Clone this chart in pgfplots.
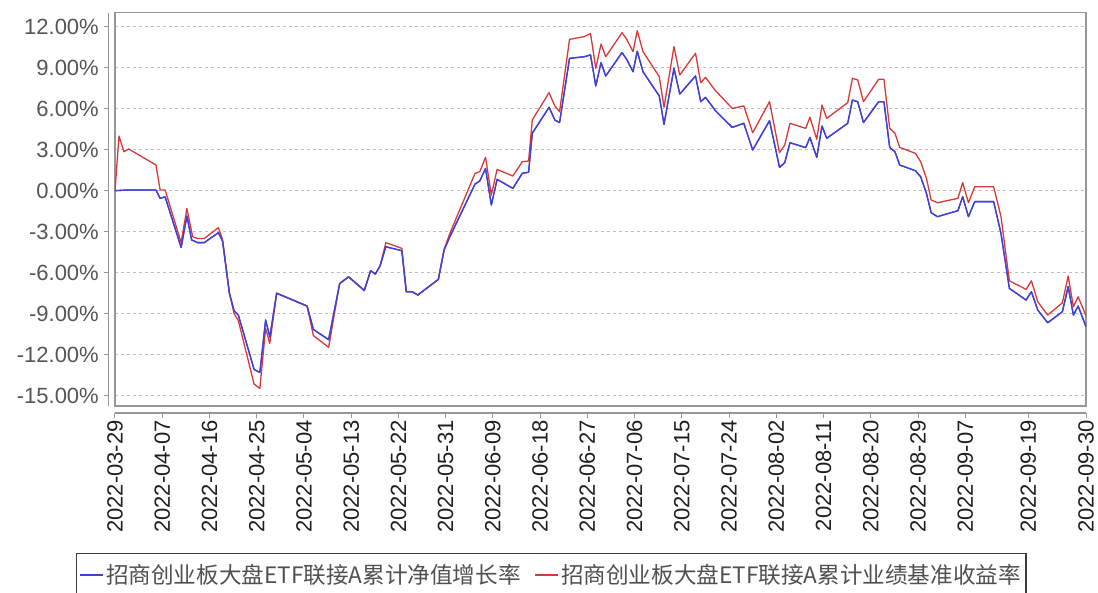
\documentclass[border=0pt]{standalone}
\usepackage{pgfplots}
\usepackage{pgfplotstable}
\pgfplotsset{compat=1.18}
\usepackage{fontspec}
\setmainfont{Liberation Sans}
\newfontfamily\cjk{Noto Sans CJK SC}
\definecolor{navblue}{RGB}{64,64,214}
\definecolor{bmred}{RGB}{218,56,56}
\definecolor{framegray}{RGB}{150,150,150}
\definecolor{gridgray}{RGB}{190,190,190}
\definecolor{ylab}{RGB}{85,85,85}
\definecolor{xlab}{RGB}{30,30,30}
\definecolor{legtext}{RGB}{80,80,80}
\definecolor{legframe}{RGB}{60,60,60}

% x = calendar days since 2022-03-29, y = cumulative return in %
\pgfplotstableread{
x y
0 0
2.2 0.05
7.8 0.05
8.6 -0.56
9.55 -0.45
12.6 -4.15
13.7 -1.85
14.6 -3.6
15.75 -3.8
17.0 -3.8
19.7 -3.07
20.5 -3.7
21.8 -7.5
22.7 -8.8
23.5 -9.1
26.5 -13.07
27.6 -13.3
28.7 -9.46
29.5 -10.7
30.8 -7.5
36.6 -8.44
37.8 -10.15
40.7 -10.9
42.8 -6.8
44.5 -6.3
47.5 -7.3
48.7 -5.85
49.6 -6.1
50.5 -5.5
51.6 -4.1
54.65 -4.39
55.5 -7.39
56.6 -7.39
57.7 -7.63
61.6 -6.49
62.7 -4.34
63.8 -3.37
68.6 0.49
69.5 0.71
70.6 1.63
71.7 -1.05
72.8 0.83
75.8 0.17
77.6 1.27
78.8 1.35
79.5 4.2
82.7 6.1
83.8 5.17
84.7 4.98
86.6 9.68
89.4 9.8
90.6 9.93
91.6 7.66
92.6 9.37
93.5 8.39
96.6 10.1
97.5 9.6
98.7 8.7
99.5 10.2
100.6 8.7
103.7 6.93
104.6 4.85
106.5 8.95
107.6 7.07
110.6 8.39
111.6 6.51
112.5 6.83
114.4 5.85
117.6 4.63
119.8 4.93
121.5 2.98
124.7 5.12
126.6 1.71
127.6 2.05
128.6 3.51
131.6 3.15
132.4 3.9
133.7 2.44
134.7 4.73
135.6 3.83
139.6 4.93
140.5 6.63
141.5 6.51
142.6 4.98
145.5 6.51
146.5 6.51
147.6 3.17
148.6 2.85
149.5 1.88
152.5 1.46
153.5 1.02
154.6 -0.2
155.5 -1.61
156.7 -1.9
160.6 -1.46
161.5 -0.44
162.6 -1.9
163.8 -0.8
167.4 -0.8
168.8 -3.12
170.4 -7.15
173.6 -8.0
174.6 -7.39
175.8 -8.73
177.7 -9.66
180.5 -8.85
181.6 -7.02
182.6 -9.1
183.5 -8.44
185 -9.95
}\navtab

\pgfplotstableread{
x y
0 0
0.76 4.0
1.7 2.85
2.6 3.05
7.8 1.88
8.6 0.05
9.55 0.05
12.6 -3.8
13.7 -1.3
14.8 -3.37
15.75 -3.5
17.0 -3.5
19.7 -2.7
20.5 -3.6
21.8 -7.5
22.7 -9.0
23.5 -9.5
26.5 -14.15
27.6 -14.46
28.7 -10.07
29.5 -11.17
30.8 -7.5
36.6 -8.44
37.8 -10.6
40.7 -11.46
42.8 -6.8
44.5 -6.3
47.5 -7.3
48.7 -5.85
49.6 -6.1
50.5 -5.5
51.6 -3.8
54.65 -4.22
55.5 -7.39
56.6 -7.39
57.7 -7.63
61.6 -6.49
62.7 -4.3
63.8 -3.12
68.6 1.27
69.5 1.39
70.6 2.44
71.7 -0.32
72.8 1.56
75.8 1.07
77.6 2.12
78.8 2.17
79.5 5.17
82.7 7.17
83.8 6.2
84.7 5.78
86.6 11.07
89.4 11.27
90.6 11.5
91.6 8.95
92.6 10.73
93.5 9.8
96.6 11.56
97.5 11.07
98.7 10.17
99.5 11.7
100.6 10.17
103.7 8.34
104.6 6.1
106.5 10.54
107.6 8.46
110.6 10.05
111.6 7.9
112.5 8.29
114.4 7.32
117.6 6.02
119.8 6.2
121.5 4.24
124.7 6.51
126.6 2.78
127.6 3.34
128.6 4.93
131.6 4.56
132.4 5.37
133.7 3.76
134.7 6.27
135.6 5.29
139.6 6.44
140.5 8.22
141.5 8.1
142.6 6.51
145.5 8.15
146.5 8.15
147.6 4.56
148.6 4.2
149.5 3.17
152.5 2.73
153.5 2.12
154.6 0.9
155.5 -0.68
156.7 -0.88
160.6 -0.56
161.5 0.59
162.6 -0.88
163.8 0.29
167.4 0.29
168.8 -1.9
170.4 -6.59
173.6 -7.22
174.6 -6.59
175.8 -8.12
177.7 -9.1
180.5 -8.2
181.6 -6.24
182.6 -8.49
183.5 -7.76
185 -9.15
}\bmtab

\begin{document}
\begin{tikzpicture}
\begin{axis}[
  name=ax,
  scale only axis, width=971pt, height=393.3pt,
  xmin=0, xmax=185, ymin=-15.75, ymax=13.02,
  clip mode=individual,
  axis line style={framegray, line width=1.2pt},
  tick pos=left, tick align=inside,
  major tick length=5pt,
  every tick/.style={framegray, line width=1pt},
  xtick style={yshift=-12pt},
  ytick style={xshift=-11.3pt},
  xtick={0,9,18,27,36,45,54,63,72,81,90,99,108,117,126,135,144,153,162,174,185},
  xticklabels={2022-03-29,2022-04-07,2022-04-16,2022-04-25,2022-05-04,2022-05-13,2022-05-22,2022-05-31,2022-06-09,2022-06-18,2022-06-27,2022-07-06,2022-07-15,2022-07-24,2022-08-02,2022-08-11,2022-08-20,2022-08-29,2022-09-07,2022-09-19,2022-09-30},
  xticklabel style={yshift=-14pt, rotate=90, anchor=east, inner sep=0pt, font=\fontsize{22}{26}\selectfont, text=xlab},
  ytick={-15,-12,-9,-6,-3,0,3,6,9,12},
  yticklabels={-15.00\%,-12.00\%,-9.00\%,-6.00\%,-3.00\%,0.00\%,3.00\%,6.00\%,9.00\%,12.00\%},
  yticklabel style={xshift=-16pt, anchor=east, inner sep=0pt, font=\fontsize{22}{26}\selectfont, text=ylab},
  ymajorgrids,
  major grid style={gridgray, dash pattern=on 3pt off 3pt, line width=0.8pt},
  legend columns=2,
  legend cell align=left,
  legend image code/.code={\draw[#1] (0pt,0pt) -- (23pt,0pt);},
  legend style={at={(0.4494,-0.3738)}, anchor=north,
    draw=legframe, line width=1.2pt,
    font=\cjk\fontsize{22.6}{26}\selectfont, text=legtext,
    inner xsep=3pt, inner ysep=9pt,
    /tikz/every even column/.append style={column sep=12pt}},
]
\addplot[draw=navblue, line width=1.3pt, line join=round] table[x=x,y=y] {\navtab};
\addlegendentry{招商创业板大盘ETF联接A累计净值增长率}
\addplot[draw=bmred, line width=1.3pt, line join=round] table[x=x,y=y] {\bmtab};
\addlegendentry{招商创业板大盘ETF联接A累计业绩基准收益率}
\addplot[draw=navblue, line width=1.3pt, line join=round, forget plot] table[x=x,y=y] {\navtab};
\draw[framegray, line width=1.2pt] ([xshift=-6.3pt]rel axis cs:0,0) -- ([xshift=-6.3pt]rel axis cs:0,1);
\draw[framegray, line width=1.2pt] ([yshift=-7pt]rel axis cs:0,0) -- ([yshift=-7pt]rel axis cs:1,0);
\end{axis}
\pgfresetboundingbox
\path[use as bounding box] ([shift={(-115pt,-186pt)}]ax.south west) rectangle ([shift={(12pt,12.7pt)}]ax.north east);
\end{tikzpicture}
\end{document}
